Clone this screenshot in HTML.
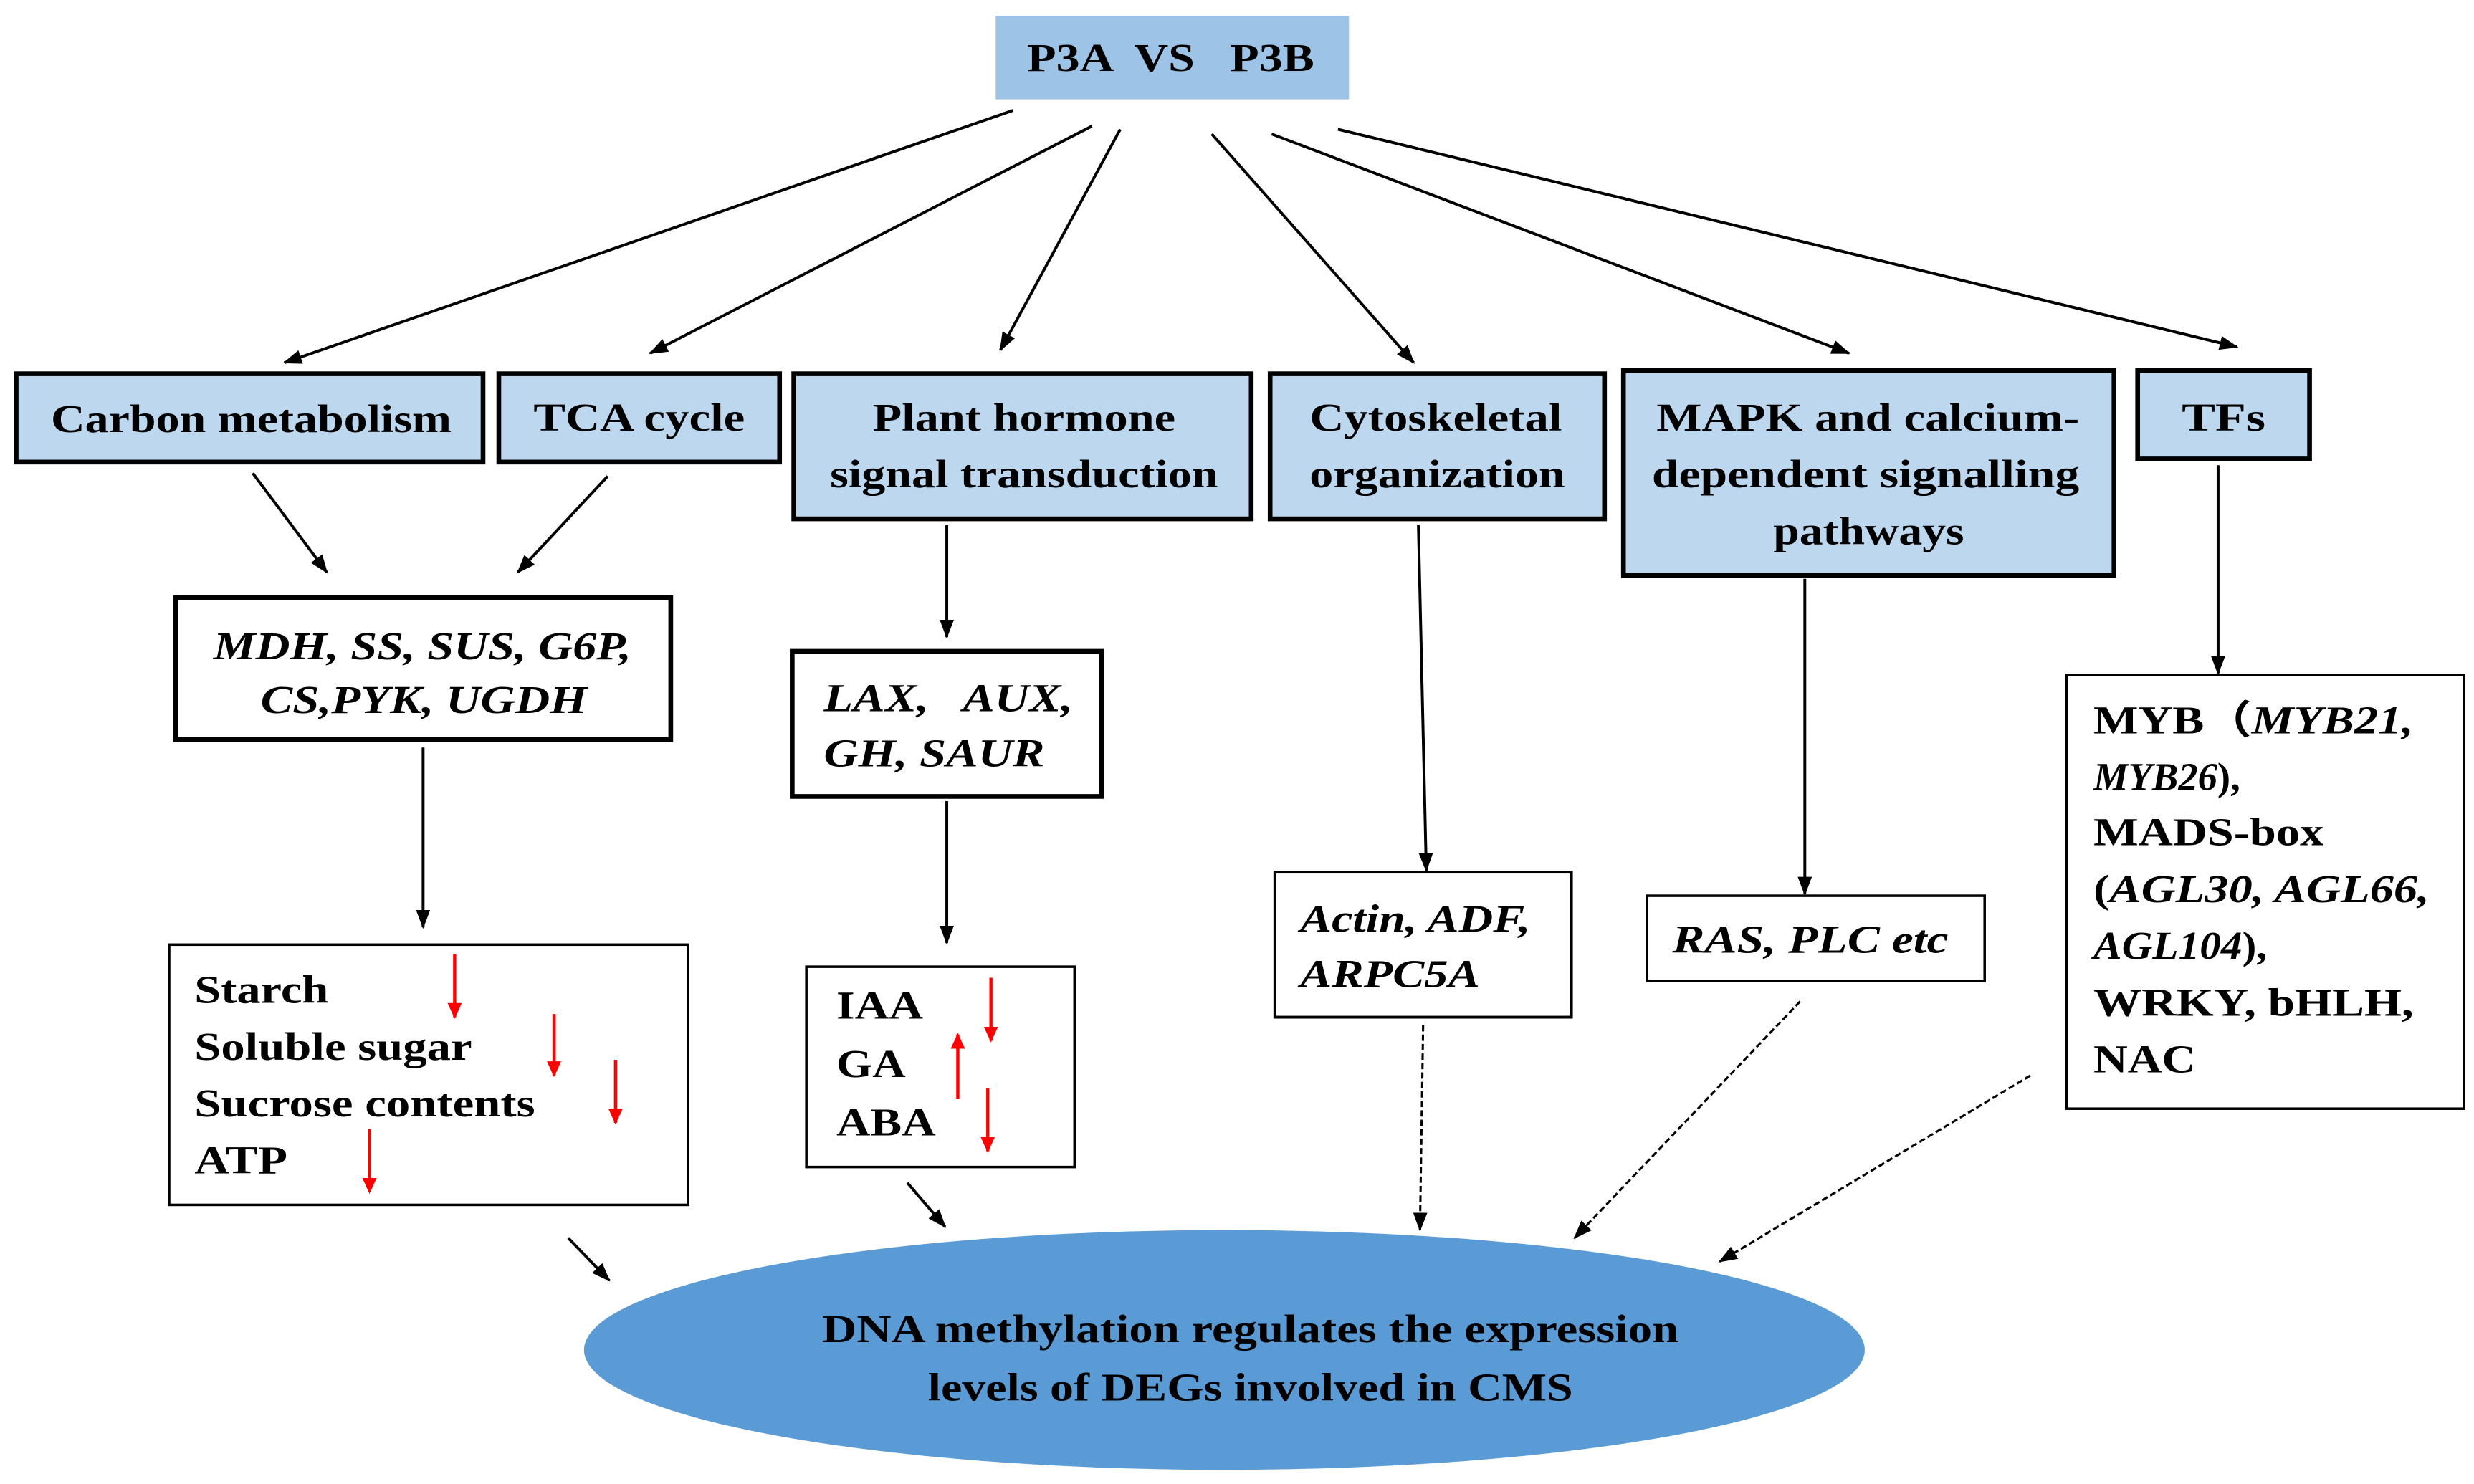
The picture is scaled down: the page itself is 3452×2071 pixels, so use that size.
<!DOCTYPE html>
<html><head><meta charset="utf-8"><style>
html,body{margin:0;padding:0;background:#fff;}
svg{display:block;}
text{font-family:"Liberation Serif","Times New Roman",serif;font-weight:bold;font-size:25px;fill:#000;}
.i{font-style:italic;}
.cjk{font-family:"Noto Sans CJK SC",sans-serif;}
</style></head><body>
<svg width="3452" height="2071" viewBox="0 0 1568 941" xmlns="http://www.w3.org/2000/svg" font-family="Liberation Serif, serif">
<defs>
<marker id="a" markerWidth="12" markerHeight="12" refX="11" refY="6" orient="auto" markerUnits="userSpaceOnUse" viewBox="0 0 12 12"><path d="M0,1.5 L12,6 L0,10.5 Z" fill="#000"/></marker>
<marker id="r" markerWidth="10" markerHeight="12" refX="9" refY="5" orient="auto" markerUnits="userSpaceOnUse" viewBox="0 0 10 10"><path d="M0,0.5 L10,5 L0,9.5 Z" fill="#f00"/></marker>
</defs>
<rect width="1568" height="941" fill="#fff"/>
<rect x="631" y="10" width="224" height="53" fill="#9dc3e6"/>
<text x="651" y="45" textLength="182" lengthAdjust="spacingAndGlyphs" xml:space="preserve">P3A  VS   P3B</text>
<g stroke="#000" stroke-width="1.8" fill="none" marker-end="url(#a)">
<line x1="642" y1="70" x2="180" y2="230"/>
<line x1="692" y1="80" x2="412" y2="224"/>
<line x1="710" y1="82" x2="634" y2="222"/>
<line x1="768" y1="85" x2="896" y2="230"/>
<line x1="806" y1="85" x2="1172" y2="224"/>
<line x1="848" y1="82" x2="1418" y2="220"/>
<line x1="160" y1="300" x2="207" y2="363"/>
<line x1="385" y1="302" x2="328" y2="363"/>
<line x1="268" y1="474" x2="268" y2="588"/>
<line x1="600" y1="333" x2="600" y2="404"/>
<line x1="600" y1="508" x2="600" y2="598"/>
<line x1="575" y1="750" x2="599" y2="778"/>
<line x1="360" y1="785" x2="386" y2="812"/>
<line x1="899" y1="333" x2="904" y2="552"/>
<line x1="1144" y1="367" x2="1144" y2="567"/>
<line x1="1406" y1="295" x2="1406" y2="427"/>
</g>
<g stroke="#000" stroke-width="1.4" fill="none" stroke-dasharray="4,2" marker-end="url(#a)">
<line x1="902" y1="650" x2="900" y2="780"/>
<line x1="1141" y1="635" x2="998" y2="785"/>
<line x1="1287" y1="682" x2="1090" y2="800"/>
</g>
<g fill="#bdd7ee" stroke="#000" stroke-width="3">
<rect x="10" y="237" width="296" height="56"/>
<rect x="316" y="237" width="178" height="56"/>
<rect x="503" y="237" width="290" height="92"/>
<rect x="805" y="237" width="212" height="92"/>
<rect x="1029" y="235" width="311" height="130"/>
<rect x="1355" y="235" width="109" height="56"/>
</g>
<text x="32" y="274" textLength="254" lengthAdjust="spacingAndGlyphs">Carbon metabolism</text>
<text x="338" y="273" textLength="134" lengthAdjust="spacingAndGlyphs">TCA cycle</text>
<text x="553" y="273" textLength="192" lengthAdjust="spacingAndGlyphs">Plant hormone</text>
<text x="526" y="309" textLength="246" lengthAdjust="spacingAndGlyphs">signal transduction</text>
<text x="830" y="273" textLength="160" lengthAdjust="spacingAndGlyphs">Cytoskeletal</text>
<text x="830" y="309" textLength="162" lengthAdjust="spacingAndGlyphs">organization</text>
<text x="1050" y="273" textLength="268" lengthAdjust="spacingAndGlyphs">MAPK and calcium-</text>
<text x="1047" y="309" textLength="271" lengthAdjust="spacingAndGlyphs">dependent signalling</text>
<text x="1124" y="345" textLength="121" lengthAdjust="spacingAndGlyphs">pathways</text>
<text x="1383" y="273" textLength="53" lengthAdjust="spacingAndGlyphs">TFs</text>
<g fill="#fff" stroke="#000">
<rect x="111" y="379" width="314" height="90" stroke-width="3"/>
<rect x="502" y="413" width="196" height="92" stroke-width="3"/>
<rect x="107" y="599" width="329" height="165" stroke-width="1.6"/>
<rect x="511" y="613" width="170" height="127" stroke-width="1.6"/>
<rect x="808" y="553" width="188" height="92" stroke-width="1.8"/>
<rect x="1044" y="568" width="214" height="54" stroke-width="1.6"/>
<rect x="1310" y="428" width="252" height="275" stroke-width="1.6"/>
</g>
<text class="i" x="135" y="418" textLength="265" lengthAdjust="spacingAndGlyphs">MDH, SS, SUS, G6P,</text>
<text class="i" x="165" y="452" textLength="207" lengthAdjust="spacingAndGlyphs">CS,PYK, UGDH</text>
<text class="i" x="522" y="451" textLength="158" lengthAdjust="spacingAndGlyphs" xml:space="preserve">LAX,   AUX,</text>
<text class="i" x="522" y="486" textLength="140" lengthAdjust="spacingAndGlyphs">GH, SAUR</text>
<text x="123" y="636" textLength="85" lengthAdjust="spacingAndGlyphs">Starch</text>
<text x="123" y="672" textLength="176" lengthAdjust="spacingAndGlyphs">Soluble sugar</text>
<text x="123" y="708" textLength="216" lengthAdjust="spacingAndGlyphs">Sucrose contents</text>
<text x="123" y="744" textLength="59" lengthAdjust="spacingAndGlyphs">ATP</text>
<text x="530" y="646" textLength="55" lengthAdjust="spacingAndGlyphs">IAA</text>
<text x="530" y="683" textLength="44" lengthAdjust="spacingAndGlyphs">GA</text>
<text x="530" y="720" textLength="63" lengthAdjust="spacingAndGlyphs">ABA</text>
<g stroke="#f00" stroke-width="2" marker-end="url(#r)">
<line x1="288" y1="605" x2="288" y2="645"/>
<line x1="351" y1="643" x2="351" y2="682"/>
<line x1="390" y1="672" x2="390" y2="712"/>
<line x1="234" y1="716" x2="234" y2="756"/>
<line x1="628" y1="620" x2="628" y2="660"/>
<line x1="607" y1="697" x2="607" y2="656"/>
<line x1="626" y1="690" x2="626" y2="730"/>
</g>
<text class="i" x="824" y="591" textLength="146" lengthAdjust="spacingAndGlyphs">Actin, ADF,</text>
<text class="i" x="824" y="626" textLength="114" lengthAdjust="spacingAndGlyphs">ARPC5A</text>
<text class="i" x="1060" y="604" textLength="175" lengthAdjust="spacingAndGlyphs">RAS, PLC etc</text>
<text x="1327" y="465" textLength="203" lengthAdjust="spacingAndGlyphs">MYB<tspan class="cjk">（</tspan><tspan class="i">MYB21,</tspan></text>
<text x="1327" y="501" textLength="93" lengthAdjust="spacingAndGlyphs"><tspan class="i">MYB26</tspan>),</text>
<text x="1327" y="536" textLength="146" lengthAdjust="spacingAndGlyphs">MADS-box</text>
<text x="1327" y="572" textLength="213" lengthAdjust="spacingAndGlyphs">(<tspan class="i">AGL30, AGL66,</tspan></text>
<text x="1327" y="608" textLength="110" lengthAdjust="spacingAndGlyphs"><tspan class="i">AGL104</tspan>),</text>
<text x="1327" y="644" textLength="203" lengthAdjust="spacingAndGlyphs">WRKY, bHLH,</text>
<text x="1327" y="680" textLength="65" lengthAdjust="spacingAndGlyphs">NAC</text>
<ellipse cx="776" cy="856" rx="406" ry="76" fill="#5b9bd5"/>
<text x="521" y="851" textLength="543" lengthAdjust="spacingAndGlyphs">DNA methylation regulates the expression</text>
<text x="588" y="888" textLength="409" lengthAdjust="spacingAndGlyphs">levels of DEGs involved in CMS</text>
</svg>
</body></html>
